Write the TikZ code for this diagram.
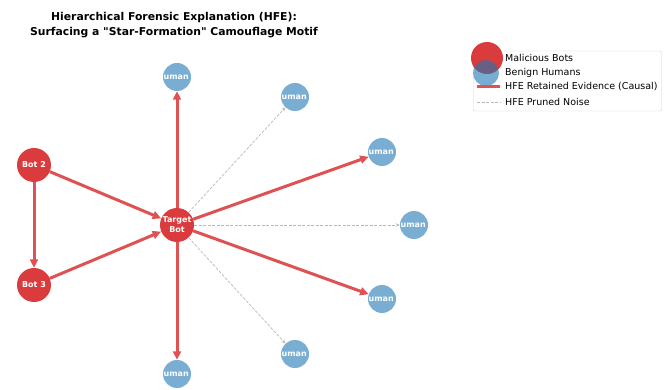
\documentclass[tikz,border=0pt]{standalone}
\usepackage{fontspec}
\setmainfont{DejaVu Sans}[Ligatures=TeXOff]
\usepackage{tikz}
\usetikzlibrary{arrows.meta,backgrounds}
\definecolor{botred}{HTML}{D62728}
\definecolor{humanblue}{HTML}{1F77B4}
\definecolor{evidred}{HTML}{DE5253}
\definecolor{noisegray}{HTML}{B8B8B8}
\definecolor{legendedge}{HTML}{D0D0D0}

\begin{document}
\begin{tikzpicture}[
  x=1pt,y=-1pt,
  bot/.style={circle,fill=botred,fill opacity=0.9,text opacity=1,text=white,inner sep=0pt,minimum size=34pt,align=center,font=\bfseries\fontsize{8}{10}\selectfont},
  human/.style={circle,fill=humanblue,fill opacity=0.6,inner sep=0pt,minimum size=28pt,
    path picture={\node[text=white,text opacity=1,font=\bfseries\fontsize{8}{10}\selectfont] at (path picture bounding box.center) {Human\phantom{~0}};}},
  evid/.style={-{Triangle[length=8.5pt,width=8pt]},draw=evidred,fill=evidred,line width=3pt},
  noise/.style={-{Stealth[length=4pt,width=3.5pt]},draw=noisegray,line width=0.7pt,dash pattern=on 3pt off 1.5pt},
  legtext/.style={anchor=west,inner sep=0pt,font=\fontsize{9.5}{11}\selectfont}
]
\useasboundingbox (0,0) rectangle (672,390);

% title
\node[align=center,font=\bfseries\fontsize{10.8}{14.5}\selectfont] (title) at (174,25)
  {Hierarchical Forensic Explanation (HFE):\\Surfacing a "Star-Formation" Camouflage Motif};

% bots
\node[bot] (tbot) at (177,225) {Target\\Bot};
\node[bot] (bot2) at (34,165) {Bot 2};
\node[bot] (bot3) at (34,285) {Bot 3};

% humans round the target
\foreach \n/\x/\y in {h1/177/77,h2/295/97,h3/382/152,h4/414/225,h5/382/299,h6/295/354,h7/177/374}
  \node[human] (\n) at (\x,\y) {};

% edges
\begin{scope}[on background layer]
\draw[evid] (tbot) -- (h1);
\draw[evid] (tbot) -- (h3);
\draw[evid] (tbot) -- (h5);
\draw[evid] (tbot) -- (h7);
\draw[evid] (bot2) -- (tbot);
\draw[evid] (bot3) -- (tbot);
\draw[evid] (bot2) -- (bot3);
\draw[noise] (tbot) -- (h2);
\draw[noise] (tbot) -- (h4);
\draw[noise] (tbot) -- (h6);
\end{scope}

% legend
\node[draw=legendedge,fill=white,rounded corners=2pt,minimum width=188pt,minimum height=60pt,inner sep=0pt] (legend) at (567.5,81) {};
\node[circle,fill=botred,fill opacity=0.9,inner sep=0pt,minimum size=32pt] (lbot) at (487,58) {};
\node[circle,fill=humanblue,fill opacity=0.6,inner sep=0pt,minimum size=26pt] (lhum) at (486,73) {};
\draw[evidred,line width=3pt] (477,87) -- (500,87);
\draw[noisegray,line width=0.7pt,dash pattern=on 3pt off 1.5pt] (477,102) -- (500,102);
\node[legtext] (t1) at (505,58) {Malicious Bots};
\node[legtext] (t2) at (505,72.5) {Benign Humans};
\node[legtext] (t3) at (505,87) {HFE Retained Evidence (Causal)};
\node[legtext] (t4) at (505,102) {HFE Pruned Noise};
\end{tikzpicture}
\end{document}
